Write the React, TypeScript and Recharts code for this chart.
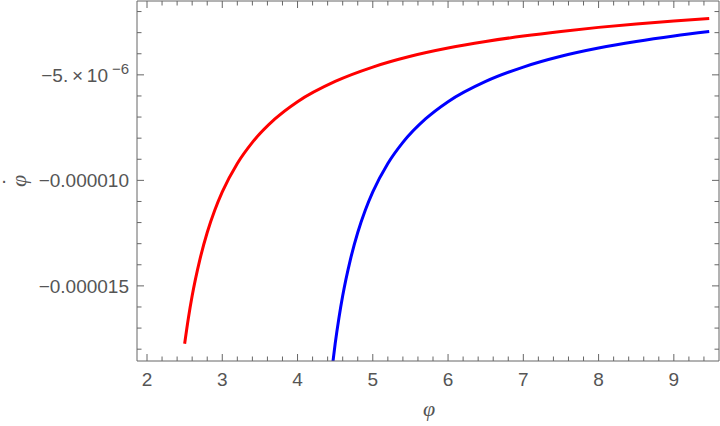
import React from "react";
import { LineChart, Line, XAxis, YAxis } from "recharts";

// ---- data ----
const redX = [2.5, 2.55, 2.6, 2.7, 2.8, 2.9, 3.0, 3.2, 3.4, 3.7, 4.0, 4.5, 5.0, 5.5, 6.0, 6.5, 7.0, 7.5, 8.0, 8.5, 9.0, 9.47];
const redY = [-17.74e-6, -16.52e-6, -15.47e-6, -13.79e-6, -12.47e-6, -11.42e-6, -10.55e-6, -9.2e-6, -8.2e-6, -7.09e-6, -6.27e-6, -5.31e-6, -4.63e-6, -4.12e-6, -3.73e-6, -3.42e-6, -3.16e-6, -2.94e-6, -2.75e-6, -2.59e-6, -2.45e-6, -2.33e-6];

const blueX = [4.46, 4.5, 4.55, 4.6, 4.7, 4.8, 4.9, 5.0, 5.2, 5.4, 5.7, 6.0, 6.5, 7.0, 7.5, 8.0, 8.5, 9.0, 9.47];
const blueY = [-18.89e-6, -17.74e-6, -16.52e-6, -15.47e-6, -13.79e-6, -12.47e-6, -11.42e-6, -10.55e-6, -9.2e-6, -8.2e-6, -7.09e-6, -6.27e-6, -5.31e-6, -4.63e-6, -4.12e-6, -3.73e-6, -3.42e-6, -3.16e-6, -2.95e-6];

const xDomain = [1.867, 9.6];
const yDomain = [-18.56e-6, -1.5e-6];

const xMajorTicks = [2, 3, 4, 5, 6, 7, 8, 9];
const xTickLabels = ["2", "3", "4", "5", "6", "7", "8", "9"];
const yMajorTicks = [-5e-6, -10e-6, -15e-6];
const yTickLabels = ["−5.\u2009×\u200910", "−0.000010", "−0.000015"];
const yTickExponent = ["−6", "", ""];

const xLabel = "φ";
const yLabel = "φ";
const yLabelDot = "·";

// ---- derived tick lists (minor + major) ----
const xAllTicks: number[] = [];
for (let k = 10; k <= 47; k++) xAllTicks.push(k / 5);
const yAllTicks: number[] = [];
for (let k = 2; k <= 18; k++) yAllTicks.push(-k / 1e6);

const redData = redX.map((x, i) => ({ x, y: redY[i] }));
const blueData = blueX.map((x, i) => ({ x, y: blueY[i] }));

const FONT = "'Liberation Sans', Arial, sans-serif";
const TEXT = "#555555";
const FRAME = "#666666";
const MAJ = 7;
const MIN = 4.5;
const FS = 19;

const xMajorIndex = (v: number) => xMajorTicks.findIndex((t) => Math.abs(t - v) < 1e-6);
const yMajorIndex = (v: number) => yMajorTicks.findIndex((t) => Math.abs(t - v) < 1e-12);

const BottomTick = (p: any) => {
  const { x, y, payload } = p;
  const i = xMajorIndex(payload.value);
  const len = i >= 0 ? MAJ : MIN;
  return (
    <g>
      <line x1={x} x2={x} y1={y} y2={y - len} stroke={FRAME} strokeWidth={1} />
      {i >= 0 && (
        <text x={x} y={y + 25} textAnchor="middle" fill={TEXT} fontSize={FS} fontFamily={FONT}>
          {xTickLabels[i]}
        </text>
      )}
    </g>
  );
};

const TopTick = (p: any) => {
  const { x, y, payload } = p;
  const i = xMajorIndex(payload.value);
  const len = i >= 0 ? MAJ : MIN;
  return <line x1={x} x2={x} y1={y} y2={y + len} stroke={FRAME} strokeWidth={1} />;
};

const LeftTick = (p: any) => {
  const { x, y, payload } = p;
  const i = yMajorIndex(payload.value);
  const len = i >= 0 ? MAJ : MIN;
  return (
    <g>
      <line x1={x} x2={x + len} y1={y} y2={y} stroke={FRAME} strokeWidth={1} />
      {i >= 0 && (
        <text x={yTickExponent[i] ? x - 29 : x - 8} y={y + 7} textAnchor="end" fill={TEXT} fontSize={FS} fontFamily={FONT}>
          {yTickLabels[i]}
        </text>
      )}
      {i >= 0 && yTickExponent[i] && (
        <text x={x - 8} y={y - 1} textAnchor="end" fill={TEXT} fontSize={15} fontFamily={FONT}>
          {yTickExponent[i]}
        </text>
      )}
    </g>
  );
};

const RightTick = (p: any) => {
  const { x, y, payload } = p;
  const i = yMajorIndex(payload.value);
  const len = i >= 0 ? MAJ : MIN;
  return <line x1={x} x2={x - len} y1={y} y2={y} stroke={FRAME} strokeWidth={1} />;
};

export default function App() {
  return (
    <div style={{ position: "absolute", left: 0, top: 0, width: 720, height: 426, background: "#fff" }}>
      <LineChart width={720} height={426} margin={{ top: 0, right: 0, bottom: 0, left: 0 }}>
        <XAxis
          xAxisId="b"
          dataKey="x"
          type="number"
          domain={xDomain}
          allowDataOverflow
          ticks={xAllTicks}
          interval={0}
          tickSize={0}
          tickMargin={0}
          tickLine={false}
          tick={<BottomTick />}
          axisLine={{ stroke: FRAME, strokeWidth: 1 }}
          height={65}
          orientation="bottom"
        />
        <XAxis
          xAxisId="t"
          dataKey="x"
          type="number"
          domain={xDomain}
          allowDataOverflow
          ticks={xAllTicks}
          interval={0}
          tickSize={0}
          tickMargin={0}
          tickLine={false}
          tick={<TopTick />}
          axisLine={{ stroke: FRAME, strokeWidth: 1 }}
          height={1}
          orientation="top"
        />
        <YAxis
          yAxisId="l"
          type="number"
          domain={yDomain}
          allowDataOverflow
          ticks={yAllTicks}
          interval={0}
          tickSize={0}
          tickMargin={0}
          tickLine={false}
          tick={<LeftTick />}
          axisLine={{ stroke: FRAME, strokeWidth: 1 }}
          width={137}
          orientation="left"
        />
        <YAxis
          yAxisId="r"
          type="number"
          domain={yDomain}
          allowDataOverflow
          ticks={yAllTicks}
          interval={0}
          tickSize={0}
          tickMargin={0}
          tickLine={false}
          tick={<RightTick />}
          axisLine={{ stroke: FRAME, strokeWidth: 1 }}
          width={1}
          orientation="right"
        />
        <Line
          xAxisId="b"
          yAxisId="l"
          data={redData}
          dataKey="y"
          type="monotone"
          stroke="#ff0000"
          strokeWidth={3}
          dot={false}
          activeDot={false}
          isAnimationActive={false}
        />
        <Line
          xAxisId="b"
          yAxisId="l"
          data={blueData}
          dataKey="y"
          type="monotone"
          stroke="#0000ff"
          strokeWidth={3}
          dot={false}
          activeDot={false}
          isAnimationActive={false}
        />
        <text x={429} y={416} textAnchor="middle" fill={TEXT} fontSize={22} fontStyle="italic" fontFamily="'Liberation Serif', serif">
          {xLabel}
        </text>
        <text
          x={18}
          y={181}
          textAnchor="middle"
          fill={TEXT}
          fontSize={22}
          fontStyle="italic"
          fontFamily="'Liberation Serif', serif"
          transform="rotate(-90 18 181)"
          dominantBaseline="central"
        >
          {yLabel}
        </text>
        <text x={4} y={187} textAnchor="middle" fill={TEXT} fontSize={20} fontFamily={FONT}>
          {yLabelDot}
        </text>
      </LineChart>
    </div>
  );
}
